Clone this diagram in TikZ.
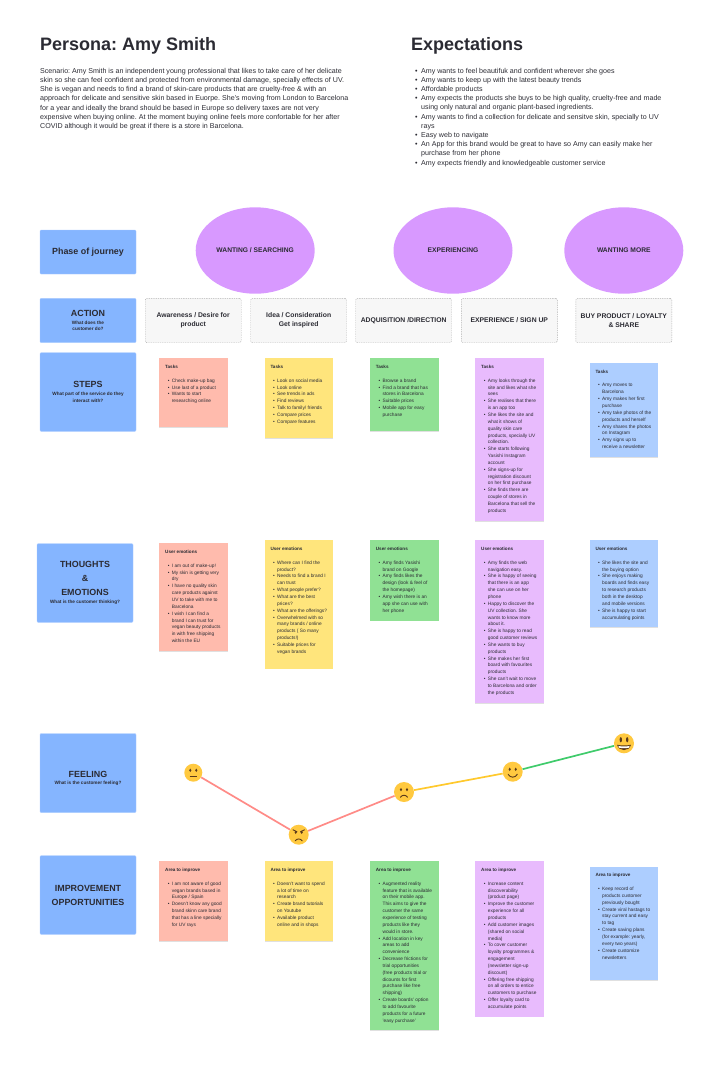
\documentclass[tikz,border=0pt]{standalone}
\usepackage{fontspec}
\setmainfont{Liberation Sans}
\usetikzlibrary{shapes.geometric,shadows,calc}
\definecolor{ink}{HTML}{2B2B33}
\definecolor{lanefill}{HTML}{85B5FF}
\definecolor{phasefill}{HTML}{D899FF}
\definecolor{notered}{HTML}{FFBBAD}
\definecolor{noteyellow}{HTML}{FFE57C}
\definecolor{notegreen}{HTML}{90E194}
\definecolor{notepurple}{HTML}{E8BBFD}
\definecolor{noteblue}{HTML}{ADCEFF}
\definecolor{facefill}{HTML}{FFC940}
\definecolor{facedark}{HTML}{5B3A1A}
\definecolor{linered}{HTML}{FF8B87}
\definecolor{lineyellow}{HTML}{FFC92D}
\definecolor{linegreen}{HTML}{3FCB6B}
\frenchspacing
\newcommand{\notefont}{\fontsize{4.8}{6.85}\selectfont}
\newcommand{\tightspace}{\spaceskip=.278em\xspaceskip=.278em\relax}
\newcommand{\nitem}[2][6.7pt]{\par\noindent\hangindent=#1\hangafter=1
  \makebox[#1][l]{\hspace{0.4\dimexpr#1\relax}\textbullet}#2\par}
\newcommand{\notebox}[3]{\parbox[t][\dimexpr#1pt-14pt\relax][t]{64.7pt}{%
  \leftskip=4pt\rightskip=-20pt plus 1fil\parindent=0pt\parskip=0pt
  {\fontsize{4.6}{6.85}\selectfont\bfseries #2\par}\vspace{6.85pt}#3}}
\newcommand{\lanesub}[1]{\par\vspace{1pt}{\fontsize{4.7}{6.7}\selectfont\bfseries\tightspace #1\par}}
\tikzset{
  lane/.style={draw=lanefill!70!white,fill=lanefill,rounded corners=1pt,inner sep=0pt,
               text width=96pt,align=center,text=ink,font=\fontsize{8.9}{14}\selectfont\bfseries,
               execute at begin node=\tightspace},
  phase/.style={ellipse,fill=phasefill,minimum width=119pt,minimum height=86.4pt,inner sep=0pt,
                text=ink,font=\fontsize{6.7}{9}\selectfont\bfseries},
  stage/.style={draw=black!30,fill=black!3,dash pattern=on 1.3pt off 1pt,rounded corners=1.5pt,
                minimum width=96pt,minimum height=44.4pt,inner sep=0pt,text width=96pt,align=center,
                text=ink,font=\fontsize{6.8}{9.3}\selectfont\bfseries,
                execute at begin node=\tightspace},
  sticky/.style={anchor=north west,inner xsep=2pt,inner ysep=7pt,text=ink,font=\notefont,
                 drop shadow={shadow xshift=0pt,shadow yshift=-0.8pt,opacity=.12,fill=black}},
  face/.style={circle,fill=facefill,minimum size=20pt,inner sep=0pt},
  feel/.style={line width=1.7pt},
  head/.style={anchor=west,inner sep=0pt,text=ink,font=\fontsize{18}{22}\selectfont\bfseries},
  para/.style={anchor=north west,inner sep=0pt,text width=340pt,align=left,text=ink,
               font=\fontsize{7.1}{9.2}\selectfont,execute at begin node=\tightspace},
  eyes/.pic={\fill[facedark] (-3,-2.4) ellipse (1.1 and 1.7) (3,-2.4) ellipse (1.1 and 1.7);},
  frown/.pic={\draw[facedark,line width=.9pt,line cap=round] (-3.6,5.2) .. controls (-1.8,2.6) and (1.8,2.6) .. (3.6,5.2);}
}

\begin{document}
\begin{tikzpicture}[x=1pt,y=-1pt]
  \useasboundingbox (0,0) rectangle (719,1072);

  % header
  \node[head] (title) at (40,45.5) {Persona: Amy Smith};
  \node[head] (goals) at (411,45.5) {Expectations};
  \node[para] (scenario) at (40,68) {Scenario: Amy Smith is an independent young professional that likes to take care of her delicate\\
    skin so she can feel confident and protected from environmental damage, specially effects of UV.\\
    She is vegan and needs to find a brand of skin-care products that are cruelty-free \& with an\\
    approach for delicate and sensitive skin based in Euorpe. She’s moving from London to Barcelona\\
    for a year and ideally the brand should be based in Europe so delivery taxes are not very\\
    expensive when buying online. At the moment buying online feels more confortable for her after\\
    COVID although it would be great if there is a store in Barcelona.};
  \node[para,text width=300pt] (wishes) at (411,63.7) {%
    \nitem[10pt]{Amy wants to feel beautifuk and confident wherever she goes}
    \nitem[10pt]{Amy wants to keep up with the latest beauty trends}
    \nitem[10pt]{Affordable products}
    \nitem[10pt]{Amy expects the products she buys to be high quality, cruelty-free and made\newline using only natural and organic plant-based ingredients.}
    \nitem[10pt]{Amy wants to find a collection for delicate and sensitve skin, specially to UV\newline rays}
    \nitem[10pt]{Easy web to navigate}
    \nitem[10pt]{An App for this brand would be great to have so Amy can easily make her\newline purchase from her phone}
    \nitem[10pt]{Amy expects friendly and knowledgeable customer service}};

  % lanes
  \node[lane,minimum height=44pt] (lphase) at (88,252) {Phase of journey};
  \node[lane,minimum height=44.4pt] (laction) at (88,320.5) {ACTION\lanesub{What does the\\customer do?}};
  \node[lane,minimum height=78.6pt] (lsteps) at (88,392) {STEPS\lanesub{What part of the service do they\\interact with?}};
  \node[lane,minimum height=78.6pt] (lthink) at (85,583) {THOUGHTS\\\&\\EMOTIONS\lanesub{What is the customer thinking?}};
  \node[lane,minimum height=79pt] (lfeel) at (88,773) {\rule{0pt}{12pt}\\[-9pt]FEELING\lanesub{What is the customer feeling?}};
  \node[lane,minimum height=78.6pt] (limprove) at (88,895) {IMPROVEMENT\\OPPORTUNITIES};

  % phases
  \node[phase] (want) at (255.2,250.5) {WANTING / SEARCHING};
  \node[phase] (exper) at (453,250.5) {EXPERIENCING};
  \node[phase] (more) at (623.8,250.5) {WANTING MORE};

  % stages
  \node[stage] (aware) at (193.2,320.5) {Awareness / Desire for\\product};
  \node[stage] (idea) at (298.7,320.5) {Idea / Consideration\\Get inspired};
  \node[stage] (adqui) at (403.7,320.5) {ADQUISITION /DIRECTION};
  \node[stage] (signup) at (509.3,320.5) {EXPERIENCE / SIGN UP};
  \node[stage] (loyal) at (623.8,320.5) {BUY PRODUCT / LOYALTY\\\& SHARE};

  % steps
  \node[sticky,fill=notered] (step1) at (159,358) {\notebox{68.7}{Tasks}{%
    \nitem{Check make-up bag}
    \nitem{Use last of a product}
    \nitem{Wants to start\\researching online}}};
  \node[sticky,fill=noteyellow] (step2) at (264.3,358) {\notebox{80}{Tasks}{%
    \nitem{Look on social media}
    \nitem{Look online}
    \nitem{See trends in ads}
    \nitem{Find reviews}
    \nitem{Talk to family/ friends}
    \nitem{Compare prices}
    \nitem{Compare features}}};
  \node[sticky,fill=notegreen] (step3) at (369.7,358) {\notebox{73}{Tasks}{%
    \nitem{Browse a brand}
    \nitem{Find a brand that has\\stores in Barcelona}
    \nitem{Suitable prices}
    \nitem{Mobile app for easy\\purchase}}};
  \node[sticky,fill=notepurple] (step4) at (475,358) {\notebox{162.7}{Tasks}{%
    \nitem{Amy looks through the\\site and likes what she\\sees}
    \nitem{She realises that there\\is an app too}
    \nitem{She likes the site and\\what it shows of\\quality skin care\\products, specially UV\\collection.}
    \nitem{She starts following\\Yasishi Instagram\\account}
    \nitem{She signs-up for\\registration discount\\on her first purchase}
    \nitem{She finds there are\\couple of stores in\\Barcelona that sell the\\products}}};
  \node[sticky,fill=noteblue] (step5) at (589.3,362.7) {\notebox{94}{Tasks}{%
    \nitem{Amy moves to\\Barcelona}
    \nitem{Amy makes her first\\purchase}
    \nitem{Amy take photos of the\\products and herself}
    \nitem{Amy shares the photos\\on Instagram}
    \nitem{Amy signs up to\\receive a newsletter}}};

  % emotions
  \node[sticky,fill=notered] (emo1) at (159,543) {\notebox{107.7}{User emotions}{%
    \nitem{I am out of make-up!}
    \nitem{My skin is getting very\\dry}
    \nitem{I have no quality skin\\care products against\\UV to take with me to\\Barcelona}
    \nitem{I wish I can find a\\brand I can trust for\\vegan beauty products\\in with free shipping\\within the EU}}};
  \node[sticky,fill=noteyellow] (emo2) at (264.3,540) {\notebox{128.3}{User emotions}{%
    \nitem{Where can I find the\\product?}
    \nitem{Needs to find a brand I\\can trust}
    \nitem{What people prefer?}
    \nitem{What are the best\\prices?}
    \nitem{What are the offerings?}
    \nitem{Overwhelmed with so\\many brands / online\\products ( So many\\products!)}
    \nitem{Suitable prices for\\vegan brands}}};
  \node[sticky,fill=notegreen] (emo3) at (369.7,540) {\notebox{80.3}{User emotions}{%
    \nitem{Amy finds Yasishi\\brand on Google}
    \nitem{Amy finds likes the\\design (look \& feel of\\the homepage)}
    \nitem{Amy wish there is an\\app she can use with\\her phone}}};
  \node[sticky,fill=notepurple] (emo4) at (475,540) {\notebox{162.7}{User emotions}{%
    \nitem{Amy finds the web\\navigation easy.}
    \nitem{She is happy of seeing\\that there is an app\\she can use on her\\phone}
    \nitem{Happy to discover the\\UV collection. She\\wants to know more\\about it.}
    \nitem{She is happy to read\\good customer reviews}
    \nitem{She wants to buy\\products}
    \nitem{She makes her first\\board with favourites\\products}
    \nitem{She can't wait to move\\to Barcelona and order\\the products}}};
  \node[sticky,fill=noteblue] (emo5) at (589.3,540) {\notebox{87}{User emotions}{%
    \nitem{She likes the site and\\the buying option}
    \nitem{She enjoys making\\boards and finds easy\\to research products\\both in the desktop\\and mobile versions}
    \nitem{She is happy to start\\accumulating points}}};

  % feeling curve
  \node[face,minimum size=18pt] (neutral) at (193.3,772.7) {};
  \node[face] (angry) at (298.7,834.7) {};
  \node[face] (sad) at (404,792) {};
  \node[face] (smile) at (512.7,771.7) {};
  \node[face] (grin) at (624,743.3) {};
  \draw[feel,linered] (neutral) -- (angry);
  \draw[feel,linered] (angry) -- (sad);
  \draw[feel,lineyellow] (sad) -- (smile);
  \draw[feel,linegreen] (smile) -- (grin);
  \pic at (neutral) {eyes};
  \draw[facedark,line width=.9pt] ($(neutral)+(-3.6,3.8)$) -- ($(neutral)+(3.6,3.8)$);
  \pic at (angry) {eyes};
  \pic at ([yshift=-1pt]angry.center) {frown};
  \draw[facedark,line width=.9pt] ($(angry)+(-6,-5)$) -- ($(angry)+(-1.5,-2.8)$) ($(angry)+(6,-5)$) -- ($(angry)+(1.5,-2.8)$);
  \pic at (sad) {eyes};
  \pic at (sad) {frown};
  \pic at (smile) {eyes};
  \draw[facedark,line width=.9pt,line cap=round] ($(smile)+(-4.6,2.6)$) .. controls ($(smile)+(-2.4,6.4)$) and ($(smile)+(2.4,6.4)$) .. ($(smile)+(4.6,2.6)$);
  \fill[facedark] ($(grin)+(-3.2,-3.6)$) ellipse (1.2 and 2.6) ($(grin)+(3.2,-3.6)$) ellipse (1.2 and 2.6);
  \fill[facedark] ($(grin)+(-7,1.4)$) .. controls ($(grin)+(-5,8.6)$) and ($(grin)+(5,8.6)$) .. ($(grin)+(7,1.4)$) .. controls ($(grin)+(3,2.4)$) and ($(grin)+(-3,2.4)$) .. cycle;
  \fill[white] ($(grin)+(-5.6,2.6)$) .. controls ($(grin)+(-2,3.4)$) and ($(grin)+(2,3.4)$) .. ($(grin)+(5.6,2.6)$) -- ($(grin)+(5,4.4)$) .. controls ($(grin)+(2,5)$) and ($(grin)+(-2,5)$) .. ($(grin)+(-5,4.4)$) -- cycle;

  % improvement
  \node[sticky,fill=notered] (area1) at (159,861) {\notebox{80}{Area to improve}{%
    \nitem{I am not aware of good\\vegan brands based in\\Europe / Spain}
    \nitem{Doesn't know any good\\brand skinn care brand\\that has a line specially\\for UV rays}}};
  \node[sticky,fill=noteyellow] (area2) at (264.3,861) {\notebox{80}{Area to improve}{%
    \nitem{Doesn't want to spend\\a lot of time on\\research}
    \nitem{Create brand tutorials\\on Youtube}
    \nitem{Available product\\online and in shops}}};
  \node[sticky,fill=notegreen] (area3) at (369.7,861) {\notebox{169}{Area to improve}{%
    \nitem{Augmented reality\\feature that is available\\on their mobile app.\\This aims to give the\\customer the same\\experience of testing\\products like they\\would in store.}
    \nitem{Add location in key\\areas to add\\convenience}
    \nitem{Decrease frictions for\\trial opportunities\\(free products trial or\\dicounts for first\\purchase like free\\shipping)}
    \nitem{Create boards' option\\to add favourite\\products for a future\\'easy purchase'}}};
  \node[sticky,fill=notepurple] (area4) at (475,861) {\notebox{155.3}{Area to improve}{%
    \nitem{Increase content\\discoverability\\(product page)}
    \nitem{Improve the customer\\experience for all\\products}
    \nitem{Add customer images\\(shared on social\\media)}
    \nitem{To cover customer\\loyalty programmes \&\\engagement\\(newsletter sign-up\\discount)}
    \nitem{Offering free shipping\\on all orders to entice\\customers to purchase}
    \nitem{Offer loyalty card to\\accumulate points}}};
  \node[sticky,fill=noteblue] (area5) at (589.3,866.3) {\notebox{113.7}{Area to improve}{%
    \nitem{Keep record of\\products customer\\previously bought}
    \nitem{Create viral hastags to\\stay current and easy\\to tag}
    \nitem{Create saving plans\\(for example: yearly,\\every two years)}
    \nitem{Create customize\\newsletters}}};
\end{tikzpicture}
\end{document}
